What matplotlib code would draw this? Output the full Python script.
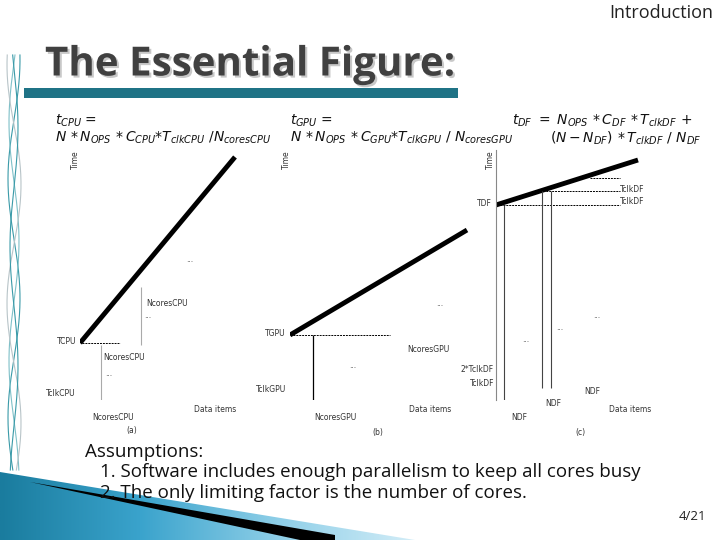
import numpy as np
import matplotlib
matplotlib.use("Agg")
import matplotlib.pyplot as plt
import matplotlib.patheffects as pe
from matplotlib.patches import Polygon, Rectangle

plt.rcParams['mathtext.fontset'] = 'dejavusans'

# --- data (units: 1 = 20 px) ---
# panel (a): CPU
cpu_x = [0.0, 7.75]
cpu_t = [2.85, 12.15]
cpu_dash_x = [0.1, 2.0]
cpu_dash_y = 2.85
cpu_vlines = [(1.05, 0.0, 2.75), (3.05, 2.75, 5.65)]

# panel (b): GPU
gpu_x = [0.0, 8.85]
gpu_t = [3.25, 8.5]
gpu_dash_x = [0.0, 5.0]
gpu_dash_y = 3.25
gpu_vlines = [(1.15, 0.0, 3.25)]

# panel (c): dataflow
df_x = [0.0, 7.1]
df_t = [9.75, 12.0]
df_dash = [(9.75, 0.2, 6.2), (10.45, 2.2, 6.2), (11.1, 4.7, 6.2)]
df_vlines = [(0.4, 0.0, 9.75), (2.3, 0.6, 10.45), (2.75, 0.6, 10.45)]

fig = plt.figure(figsize=(7.2, 5.4), dpi=100)

# background / slide decorations in pixel space
bg = fig.add_axes([0, 0, 1, 1])
bg.set_xlim(0, 720)
bg.set_ylim(540, 0)
bg.axis('off')

# left side wavy lines
yy = np.linspace(55, 470, 300)
for amp, ph, col in [(6, 0.0, '#3a9aa8'), (5, 1.5, '#7fc0c8'), (7, 3.0, '#b8c4c8'), (4, 4.5, '#3a9aa8')]:
    bg.plot(14 + amp * np.sin(yy / 38.0 + ph), yy, color=col, lw=0.8)

# title bar
bg.add_patch(Rectangle((24, 88), 434, 10, color='#1f7386', lw=0))
bg.text(45, 65, 'The Essential Figure:', fontsize=29, fontweight='bold',
        family='Open Sans', color='#404040', va='center', ha='left',
        path_effects=[pe.withSimplePatchShadow(offset=(1.5, -1.5),
                                               shadow_rgbFace='#c8c8c8', alpha=1.0)])
bg.text(713, 13, 'Introduction', fontsize=13, family='Open Sans',
        color='#222222', ha='right', va='center')

# bottom wedge with gradient
grad = np.linspace(0, 1, 256).reshape(1, -1)
im = bg.imshow(grad, extent=[0, 420, 540, 468], cmap=matplotlib.colors.LinearSegmentedColormap.from_list(
    'w', ['#1a7c9e', '#3aa3cc', '#8fcfe8', '#d5eef8']), aspect='auto', zorder=1)
wedge = Polygon([(0, 472), (415, 540), (0, 540)], closed=True, transform=bg.transData)
im.set_clip_path(wedge)
bg.add_patch(Polygon([(30, 482), (335, 535), (335, 540), (300, 540)], color='black', lw=0, zorder=2))

tkw = dict(fontsize=13.5, family='Open Sans', color='#111111', va='center')
bg.text(85, 452, 'Assumptions:', **tkw)
bg.text(100, 472, '1. Software includes enough parallelism to keep all cores busy', **tkw)
bg.text(100, 493, '2. The only limiting factor is the number of cores.', **tkw)
bg.text(706, 517, '4/21', fontsize=9.5, family='Open Sans', color='#222222', ha='right', va='center')

# formulas
fkw = dict(fontsize=10, color='#111111', va='center')
bg.text(55, 121, r'$t_{CPU}$ =', **fkw)
bg.text(55, 138, r'$N\,*N_{OPS}\,*C_{CPU}{*}T_{clkCPU}\ /N_{coresCPU}$', **fkw)
bg.text(290, 121, r'$t_{GPU}$ =', **fkw)
bg.text(290, 138, r'$N\,*N_{OPS}\,*C_{GPU}{*}T_{clkGPU}\ /\ N_{coresGPU}$', **fkw)
bg.text(512, 121, r'$t_{DF}\ =\ N_{OPS}\,*C_{DF}\,*T_{clkDF}\,+$', **fkw)
bg.text(550, 138, r'$(N - N_{DF})\,*T_{clkDF}\ /\ N_{DF}$', **fkw)


def panel(left_px, w_px=180, bottom_px=400, h_px=250):
    ax = fig.add_axes([left_px / 720, (540 - bottom_px) / 540, w_px / 720, h_px / 540])
    ax.set_xlim(0, w_px / 20)
    ax.set_ylim(0, h_px / 20)
    ax.patch.set_alpha(0)
    for s in ax.spines.values():
        s.set_visible(False)
    ax.set_xticks([])
    ax.set_yticks([])
    return ax


lkw = dict(fontsize=5.5, color='#333333', family='Liberation Sans Narrow')

# (a)
ax1 = panel(80, w_px=180)
ax1.plot(cpu_x, cpu_t, color='black', lw=3.5, solid_capstyle='butt')
ax1.plot(cpu_dash_x, [cpu_dash_y] * 2, color='black', lw=0.7, ls=(0, (2, 1)))
for x, y0, y1 in cpu_vlines:
    ax1.vlines(x, y0, y1, color='#aaaaaa', lw=0.8)
ax1.text(-0.25, 12.0, 'Time', rotation=90, ha='center', va='center', **lkw)
ax1.text(-0.2, 2.95, 'TCPU', ha='right', va='center', **lkw)
ax1.text(-0.2, 0.3, 'TclkCPU', ha='right', va='center', **lkw)
ax1.text(2.2, 2.1, 'NcoresCPU', ha='center', va='center', **lkw)
ax1.text(1.65, -0.85, 'NcoresCPU', ha='center', va='center', **lkw)
ax1.text(4.35, 4.85, 'NcoresCPU', ha='center', va='center', **lkw)
ax1.text(5.5, 7.0, '...', ha='center', va='center', **lkw)
ax1.text(3.4, 4.2, '...', ha='center', va='center', **lkw)
ax1.text(1.45, 1.35, '...', ha='center', va='center', **lkw)
ax1.text(6.75, -0.45, 'Data items', ha='center', va='center', **lkw)
ax1.text(2.6, -1.5, '(a)', ha='center', va='center', **lkw)

# (b)
ax2 = panel(290, w_px=190)
ax2.plot(gpu_x, gpu_t, color='black', lw=3.5, solid_capstyle='butt')
ax2.plot(gpu_dash_x, [gpu_dash_y] * 2, color='black', lw=0.7, ls=(0, (2, 1)))
for x, y0, y1 in gpu_vlines:
    ax2.vlines(x, y0, y1, color='black', lw=0.9)
ax2.text(-0.2, 12.0, 'Time', rotation=90, ha='center', va='center', **lkw)
ax2.text(-0.2, 3.3, 'TGPU', ha='right', va='center', **lkw)
ax2.text(-0.2, 0.5, 'TclkGPU', ha='right', va='center', **lkw)
ax2.text(6.9, 2.5, 'NcoresGPU', ha='center', va='center', **lkw)
ax2.text(2.25, -0.9, 'NcoresGPU', ha='center', va='center', **lkw)
ax2.text(7.5, 4.85, '...', ha='center', va='center', **lkw)
ax2.text(3.15, 1.7, '...', ha='center', va='center', **lkw)
ax2.text(7.0, -0.45, 'Data items', ha='center', va='center', **lkw)
ax2.text(4.4, -1.65, '(b)', ha='center', va='center', **lkw)

# (c)
ax3 = panel(496, w_px=180)
ax3.spines['left'].set_visible(True)
ax3.spines['left'].set_color('#888888')
ax3.spines['left'].set_linewidth(0.8)
ax3.set_ylim(0, 12.5)
ax3.plot(df_x, df_t, color='black', lw=3.5, solid_capstyle='butt')
for y, x0, x1 in df_dash:
    ax3.hlines(y, x0, x1, color='black', lw=0.7, ls=(0, (2, 1)))
for x, y0, y1 in df_vlines:
    ax3.vlines(x, y0, y1, color='#444444', lw=0.8)
ax3.text(-0.3, 12.0, 'Time', rotation=90, ha='center', va='center', **lkw)
ax3.text(-0.2, 9.85, 'TDF', ha='right', va='center', **lkw)
ax3.text(6.2, 10.5, 'TclkDF', ha='left', va='center', **lkw)
ax3.text(6.2, 9.95, 'TclkDF', ha='left', va='center', **lkw)
ax3.text(-0.1, 1.5, "2*TclkDF", ha='right', va='center', **lkw)
ax3.text(-0.1, 0.8, 'TclkDF', ha='right', va='center', **lkw)
ax3.text(1.15, -0.9, 'NDF', ha='center', va='center', **lkw)
ax3.text(2.85, -0.15, 'NDF', ha='center', va='center', **lkw)
ax3.text(4.8, 0.45, 'NDF', ha='center', va='center', **lkw)
ax3.text(1.5, 3.0, '...', ha='center', va='center', **lkw)
ax3.text(3.2, 3.6, '...', ha='center', va='center', **lkw)
ax3.text(5.05, 4.25, '...', ha='center', va='center', **lkw)
ax3.text(6.7, -0.45, 'Data items', ha='center', va='center', **lkw)
ax3.text(4.2, -1.65, '(c)', ha='center', va='center', **lkw)

fig.savefig('out.png', dpi=100)
